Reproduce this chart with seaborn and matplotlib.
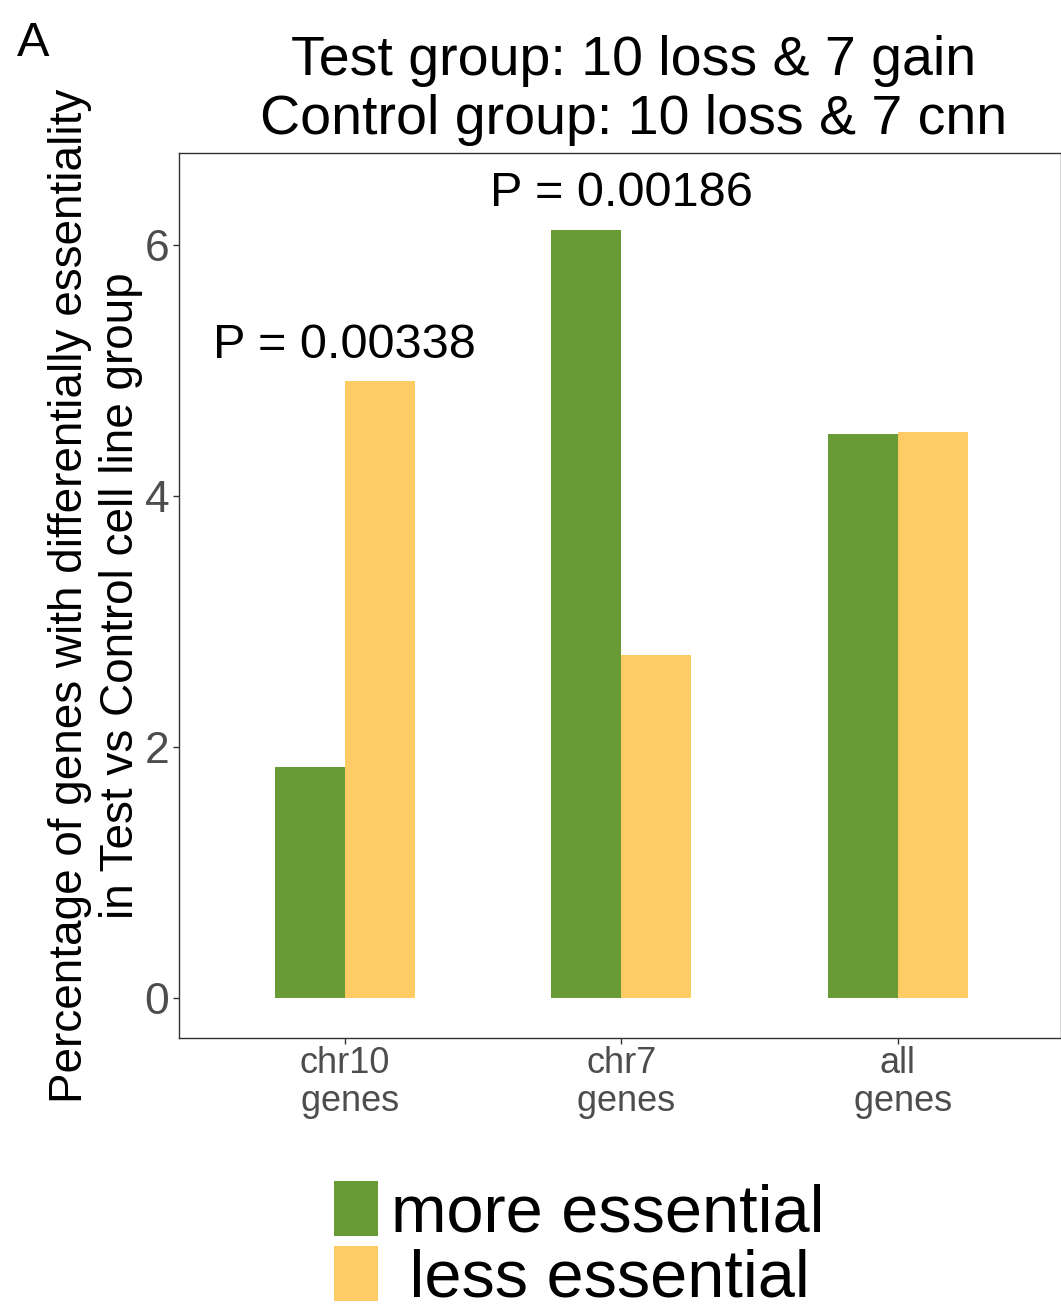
import pandas as pd
import matplotlib
matplotlib.use('Agg')
import matplotlib.pyplot as plt
import seaborn as sns

# data
categories = ['chr10\n genes', 'chr7\n genes', 'all\n genes']
more_essential = [1.84, 6.12, 4.49]
less_essential = [4.91, 2.73, 4.51]
p_labels = ['P = 0.00338', 'P = 0.00186']
p_heights = [5.2, 6.41]
groups = ['more essential', ' less essential']
colors = ['#689A35', '#FECB65']

df = pd.DataFrame({
    'category': categories * 2,
    'value': more_essential + less_essential,
    'group': [groups[0]] * 3 + [groups[1]] * 3,
})

sns.set_theme(style='white')
plt.rcParams['font.family'] = ['Liberation Sans', 'DejaVu Sans']
plt.rcParams['text.color'] = 'black'
plt.rcParams['axes.labelcolor'] = 'black'

fig = plt.figure(figsize=(10.61, 13.13), dpi=100)
ax = fig.add_axes([0.1687, 0.2094, 0.8313, 0.6741])

sns.barplot(data=df, x='category', y='value', hue='group', order=categories,
            hue_order=groups, palette=colors, width=0.506, saturation=1,
            linewidth=0, ax=ax)

ax.set_xlim(-0.6, 2.59)
ax.set_ylim(-0.32, 6.73)
ax.set_yticks([0, 2, 4, 6])
ax.set_yticklabels(['0', '2', '4', '6'])
ax.tick_params(axis='y', labelsize=32, labelcolor='#4D4D4D', length=4,
               width=1, color='#333333', left=True, pad=3)
ax.tick_params(axis='x', labelsize=26, labelcolor='#4D4D4D', length=4,
               width=1, color='#333333', bottom=True, pad=2)
for t in ax.get_xticklabels():
    t.set_linespacing(1.09)
for s in ax.spines.values():
    s.set_color('#333333')
    s.set_linewidth(1.0)

ax.set_xlabel('')
ax.set_ylabel('Percentage of genes with differentially essentiality\n'
              'in Test vs Control cell line group',
              fontsize=33, linespacing=1.2, labelpad=1)
ax.set_title('Test group: 10 loss & 7 gain\nControl group: 10 loss & 7 cnn',
             fontsize=40, linespacing=1.165, pad=14, x=0.515)

for i, (lab, h) in enumerate(zip(p_labels, p_heights)):
    ax.text(i, h, lab, fontsize=35, ha='center', va='center')

fig.text(0.016, 0.984, 'A', fontsize=35, va='top', ha='left')

handles, labels = ax.get_legend_handles_labels()
ax.legend_.remove()
fig.legend(handles, labels, loc='lower center', bbox_to_anchor=(0.546, -0.026),
           frameon=False, fontsize=48, handlelength=0.65, handleheight=0.9,
           handletextpad=0.2, labelspacing=0.0, borderpad=0.05)

fig.savefig('out.png', dpi=100)
